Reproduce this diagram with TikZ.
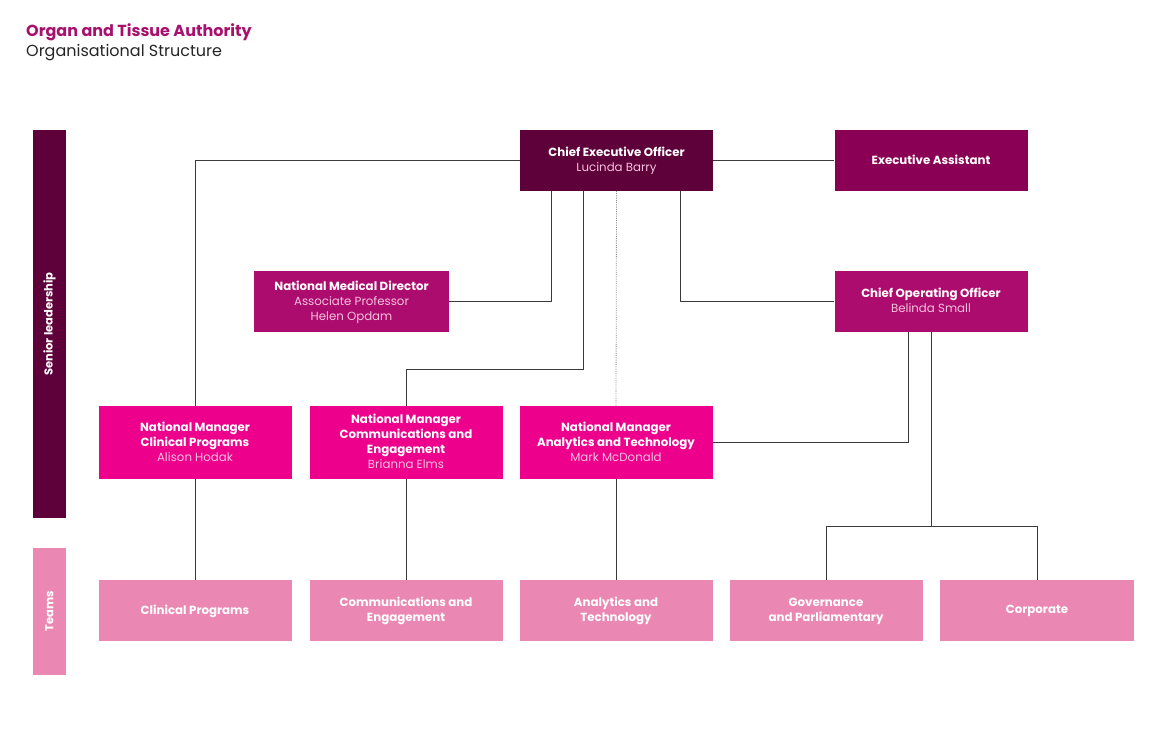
\documentclass[tikz,border=0pt]{standalone}
\usepackage{fontspec}
\setmainfont{Poppins}
\usetikzlibrary{calc}
\definecolor{ceoC}{HTML}{5E003A}
\definecolor{eaC}{HTML}{8A0054}
\definecolor{midC}{HTML}{AD0C6F}
\definecolor{nmC}{HTML}{EC008C}
\definecolor{teamC}{HTML}{EA87B3}
\definecolor{titleC}{HTML}{A8106E}
\definecolor{nameC}{HTML}{F6C2DE}
\definecolor{lineC}{HTML}{3A3A3A}
\tikzset{
  box/.style={draw=none, inner sep=2pt, align=center, text=white, font=\fontsize{11.8}{15}\selectfont, minimum width=193pt, minimum height=61pt, text depth=1.5pt},
  nmbox/.style={box, fill=nmC, minimum height=73pt},
  teambox/.style={box, fill=teamC},
  conn/.style={draw=lineC, line width=0.9pt},
  dots/.style={draw=gray!90, line width=0.8pt, densely dotted},
  barlabel/.style={rotate=90, text=white, font=\fontsize{11.5}{12}\selectfont\bfseries},
}
\newcommand{\bt}[1]{\textbf{#1}}
\newcommand{\nmt}[1]{\textcolor{nameC}{#1}}
\begin{document}
\begin{tikzpicture}[x=1pt,y=-1pt]
\useasboundingbox (0,0) rectangle (1165,754);
% title
\node[anchor=base west, inner sep=0, text=titleC, font=\fontsize{16}{18}\selectfont\bfseries] (title) at (26,37) {Organ and Tissue Authority};
\node[anchor=base west, inner sep=0, text=black!85, font=\fontsize{16}{18}\selectfont] (subtitle) at (26,57) {Organisational Structure};
% side bars
\node[draw=none, fill=ceoC, minimum width=33pt, minimum height=388pt, inner sep=0] (sl) at (49.5,324) {};
\node[barlabel] at (sl.center) {Senior leadership};
\node[draw=none, fill=teamC, minimum width=33pt, minimum height=127pt, inner sep=0] (tm) at (49.5,611.5) {};
\node[barlabel] at (tm.center) {Teams};
% boxes
\node[box, fill=ceoC] (ceo) at (616.5,160.5) {\bt{Chief Executive Officer}\\\nmt{Lucinda Barry}};
\node[box, fill=eaC] (ea) at (931,160.5) {\bt{Executive Assistant}};
\node[box, fill=midC, minimum width=195pt] (nmd) at (351.5,301.5) {\bt{National Medical Director}\\\nmt{Associate Professor}\\\nmt{Helen Opdam}};
\node[box, fill=midC] (coo) at (931,301.5) {\bt{Chief Operating Officer}\\\nmt{Belinda Small}};
\node[nmbox] (nmcp) at (195,442.5) {\bt{National Manager}\\\bt{Clinical Programs}\\\nmt{Alison Hodak}};
\node[nmbox] (nmce) at (406,442.5) {\bt{National Manager}\\\bt{Communications and}\\\bt{Engagement}\\\nmt{Brianna Elms}};
\node[nmbox] (nmat) at (616,442.5) {\bt{National Manager}\\\bt{Analytics and Technology}\\\nmt{Mark McDonald}};
% teams
\node[teambox] (tcp) at (195,610.5) {\bt{Clinical Programs}};
\node[teambox] (tce) at (406,610.5) {\bt{Communications and}\\\bt{Engagement}};
\node[teambox] (tat) at (616,610.5) {\bt{Analytics and}\\\bt{Technology}};
\node[teambox] (tgp) at (826,610.5) {\bt{Governance}\\\bt{and Parliamentary}};
\node[teambox, minimum width=194pt] (tco) at (1037,610.5) {\bt{Corporate}};
% connectors
\draw[conn] (ceo.west) -| (nmcp.north);
\draw[conn] (ceo.east) -- (ea.west);
\draw[conn] ([xshift=-65.5pt]ceo.south) |- (nmd.east);
\draw[conn] ([xshift=-33.5pt]ceo.south) -- ++(0,178) -| (nmce.north);
\draw[dots] (ceo.south) -- (nmat.north);
\draw[conn] ([xshift=63.5pt]ceo.south) |- (coo.west);
\draw[conn] ([xshift=-23pt]coo.south) |- (nmat.east);
\draw[conn] (coo.south) -- ++(0,194) coordinate (j);
\draw[conn] (tgp.north) |- (j) -| (tco.north);
\draw[conn] (nmcp.south) -- (tcp.north);
\draw[conn] (nmce.south) -- (tce.north);
\draw[conn] (nmat.south) -- (tat.north);
\end{tikzpicture}
\end{document}
